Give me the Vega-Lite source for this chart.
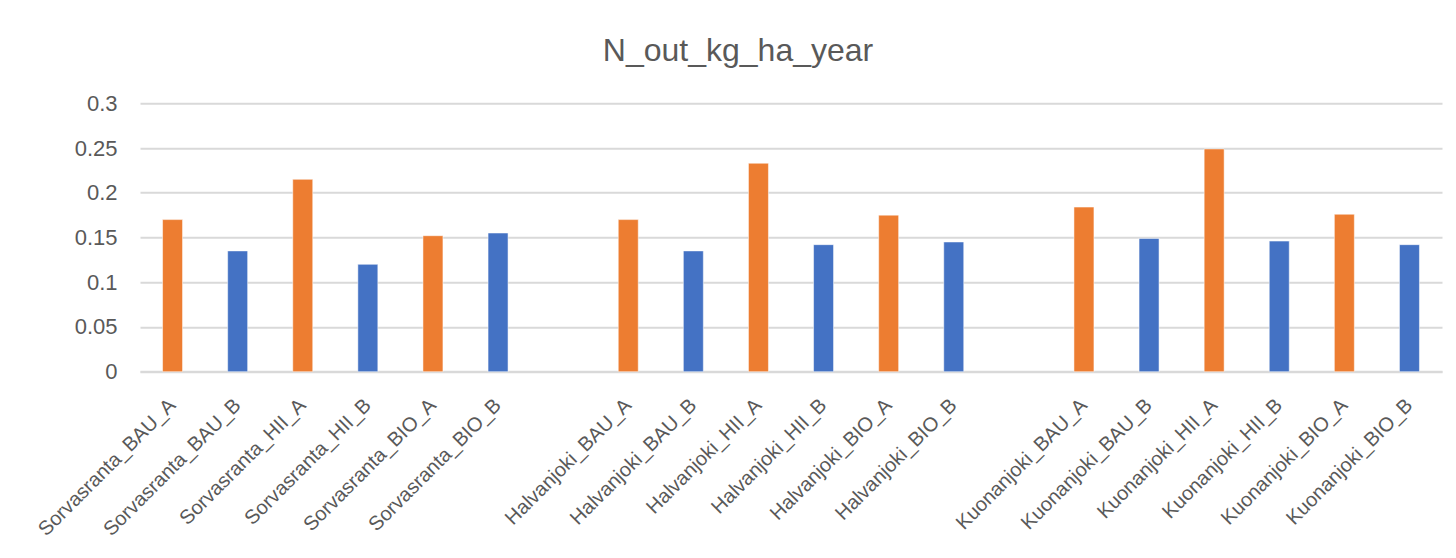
{
  "$schema": "https://vega.github.io/schema/vega-lite/v6.json",
  "autosize": {"type": "none"},
  "width": 1302,
  "height": 268.4,
  "padding": {"left": 140, "top": 103.3, "right": 14, "bottom": 186.3},
  "background": "#ffffff",
  "title": {
    "text": "N_out_kg_ha_year",
    "frame": "group",
    "anchor": "middle",
    "baseline": "alphabetic",
    "offset": -1,
    "dx": -53,
    "font": "Liberation Sans",
    "fontSize": 32,
    "fontWeight": "normal",
    "color": "#595959"
  },
  "config": {
    "view": {"stroke": null},
    "axis": {"labelFont": "Liberation Sans", "labelFontSize": 22, "labelColor": "#595959", "labelLimit": 0}
  },
  "data": {
    "values": [
      {"name": "Sorvasranta_BAU_A", "series": "A", "value": 0.170},
      {"name": "Sorvasranta_BAU_B", "series": "B", "value": 0.135},
      {"name": "Sorvasranta_HII_A", "series": "A", "value": 0.215},
      {"name": "Sorvasranta_HII_B", "series": "B", "value": 0.120},
      {"name": "Sorvasranta_BIO_A", "series": "A", "value": 0.152},
      {"name": "Sorvasranta_BIO_B", "series": "B", "value": 0.155},
      {"name": "Halvanjoki_BAU_A", "series": "A", "value": 0.170},
      {"name": "Halvanjoki_BAU_B", "series": "B", "value": 0.135},
      {"name": "Halvanjoki_HII_A", "series": "A", "value": 0.233},
      {"name": "Halvanjoki_HII_B", "series": "B", "value": 0.142},
      {"name": "Halvanjoki_BIO_A", "series": "A", "value": 0.175},
      {"name": "Halvanjoki_BIO_B", "series": "B", "value": 0.145},
      {"name": "Kuonanjoki_BAU_A", "series": "A", "value": 0.184},
      {"name": "Kuonanjoki_BAU_B", "series": "B", "value": 0.149},
      {"name": "Kuonanjoki_HII_A", "series": "A", "value": 0.249},
      {"name": "Kuonanjoki_HII_B", "series": "B", "value": 0.146},
      {"name": "Kuonanjoki_BIO_A", "series": "A", "value": 0.176},
      {"name": "Kuonanjoki_BIO_B", "series": "B", "value": 0.142}
    ]
  },
  "mark": {"type": "bar", "stroke": "#ffffff", "strokeOpacity": 0.5, "strokeWidth": 1},
  "encoding": {
    "x": {
      "field": "name",
      "type": "nominal",
      "sort": null,
      "scale": {
        "domain": ["Sorvasranta_BAU_A", "Sorvasranta_BAU_B", "Sorvasranta_HII_A", "Sorvasranta_HII_B", "Sorvasranta_BIO_A", "Sorvasranta_BIO_B", " ",
                   "Halvanjoki_BAU_A", "Halvanjoki_BAU_B", "Halvanjoki_HII_A", "Halvanjoki_HII_B", "Halvanjoki_BIO_A", "Halvanjoki_BIO_B", "  ",
                   "Kuonanjoki_BAU_A", "Kuonanjoki_BAU_B", "Kuonanjoki_HII_A", "Kuonanjoki_HII_B", "Kuonanjoki_BIO_A", "Kuonanjoki_BIO_B"],
        "paddingInner": 0.693,
        "paddingOuter": 0.3465
      },
      "axis": {
        "title": null,
        "labelAngle": -45,
        "labelAlign": "right",
        "labelBaseline": "middle",
        "labelPadding": 30,
        "labelFontSize": 20,
        "ticks": false,
        "tickSize": 0,
        "domain": true,
        "domainColor": "#d9d9d9",
        "domainWidth": 2,
        "grid": false,
        "labelOverlap": false
      }
    },
    "y": {
      "field": "value",
      "type": "quantitative",
      "scale": {"domain": [0, 0.3], "nice": false},
      "axis": {
        "title": null,
        "values": [0, 0.05, 0.1, 0.15, 0.2, 0.25, 0.3],
        "format": "~g",
        "ticks": false,
        "tickSize": 0,
        "domain": false,
        "labelPadding": 23,
        "gridColor": "#d9d9d9",
        "gridWidth": 2
      }
    },
    "color": {
      "field": "series",
      "type": "nominal",
      "scale": {"domain": ["A", "B"], "range": ["#ED7D31", "#4472C4"]},
      "legend": null
    }
  }
}
